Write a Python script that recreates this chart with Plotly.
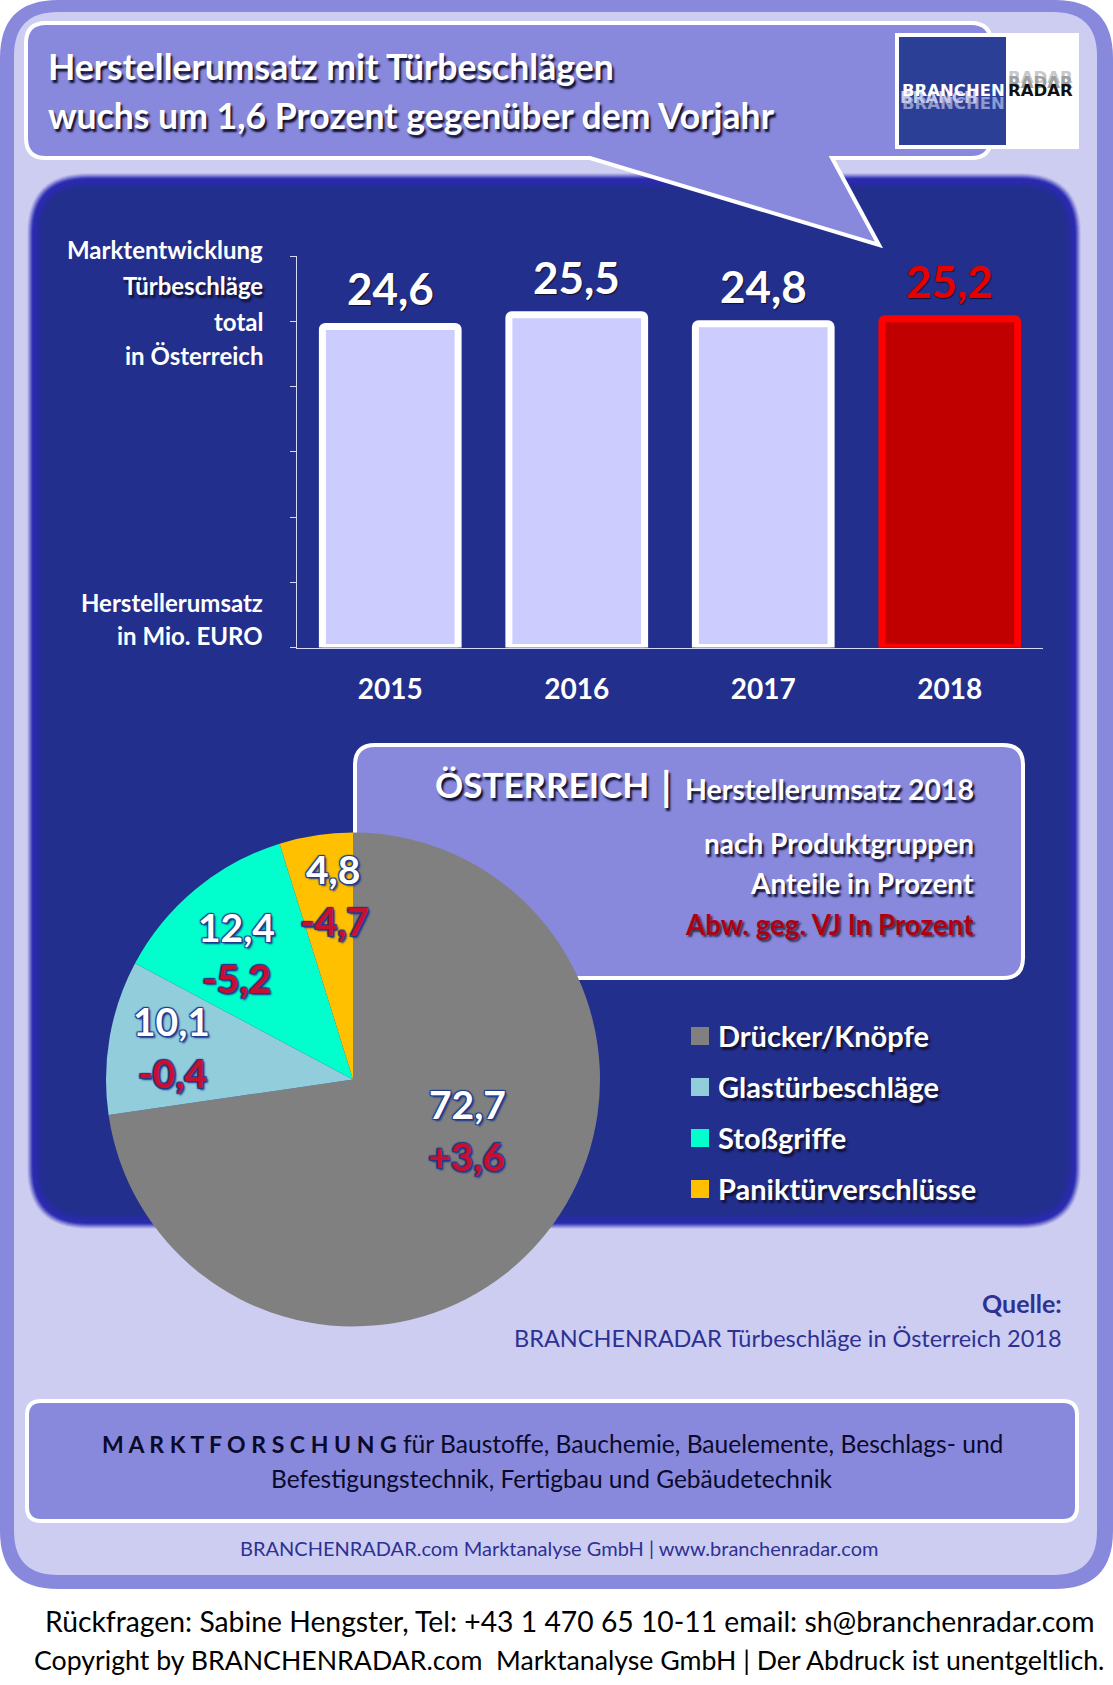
import plotly.graph_objs as go

year_list = ["2015", "2016", "2017", "2018"]
value_list = [24.6, 25.5, 24.8, 25.2]
value_text_list = ["24,6", "25,5", "24,8", "25,2"]
value_color_list = ["white", "white", "white", "#E60000"]

product_list = ["Drücker/Knöpfe", "Glastürbeschläge", "Stoßgriffe", "Paniktürverschlüsse"]
share_list = [72.7, 10.1, 12.4, 4.8]
share_text_list = ["72,7", "10,1", "12,4", "4,8"]
change_text_list = ["+3,6", "-0,4", "-5,2", "-4,7"]

axis_title_list = ["Marktentwicklung", "Türbeschläge", "total", "in Österreich", "Herstellerumsatz", "in Mio. EURO"]
axis_title_y_list = [252, 287, 323, 357, 604, 637]

share_xy_list = [(467, 1106), (171, 1023), (236, 929), (333, 871)]
change_xy_list = [(466, 1158), (172, 1075), (236, 980), (334, 923)]
legend_y_list = [1036, 1087, 1138, 1189]
slice_color_list = ["#808080", "#92CDDC", "#00FFCC", "#FFC000"]

W = 1113
H = 1685
NARROW = "Lato, sans-serif"
VIOLET = "#8888DD"
PALE = "#CDCDF2"
NAVY = "#232F8C"
DARK_SHADOW = "2px 3px 2px #111133"
OUTLINE = "1px 1px 1px #1F3A8C, -1px -1px 1px #1F3A8C, 1px -1px 1px #1F3A8C, -1px 1px 1px #1F3A8C, 2px 2px 2px #1F3A8C"


def px(x):
    return x / W


def py(y):
    return 1 - y / H


def box_path(x0, y0, x1, y1, r):
    return (f"M{px(x0 + r)},{py(y0)} L{px(x1 - r)},{py(y0)} Q{px(x1)},{py(y0)} {px(x1)},{py(y0 + r)} "
            f"L{px(x1)},{py(y1 - r)} Q{px(x1)},{py(y1)} {px(x1 - r)},{py(y1)} "
            f"L{px(x0 + r)},{py(y1)} Q{px(x0)},{py(y1)} {px(x0)},{py(y1 - r)} "
            f"L{px(x0)},{py(y0 + r)} Q{px(x0)},{py(y0)} {px(x0 + r)},{py(y0)} Z")


def box(x0, y0, x1, y1, r, fill, line=None, width=0):
    return dict(type="path", xref="paper", yref="paper", layer="below", path=box_path(x0, y0, x1, y1, r),
                fillcolor=fill, line=dict(color=line, width=width))


def note(text, x, y, size, color="white", anchor="center", bold=True, shadow=None, family=NARROW, opacity=1):
    return dict(text=text, x=px(x), y=py(y), xref="paper", yref="paper", showarrow=False, xanchor=anchor,
                yanchor="middle", yshift=2, opacity=opacity, borderpad=0,
                font=dict(family=family, size=size, color=color, weight="bold" if bold else "normal",
                          shadow=shadow if shadow else "none"))


shape_list = [box(0, 0, W, 1589, 58, VIOLET),
              box(14, 12, 1097, 1575, 44, PALE)]

# soft edge of the dark panel
for grow, color in [(3, "#BEBEEA"), (2, "#A4A4E0"), (1, "#8888D8"), (0, "#6A6ACC"), (-1, "#4C4CC0"),
                    (-2, "#3434B4"), (-3, "#2A2AAC"), (-7, "#262C9C"), (-11, NAVY)]:
    shape_list.append(box(30 - grow, 176 - grow, 1078 + grow, 1226 + grow, 58 + grow, color))

callout_path = (f"M{px(46)},{py(23)} L{px(971)},{py(23)} Q{px(991)},{py(23)} {px(991)},{py(43)} "
                f"L{px(991)},{py(138)} Q{px(991)},{py(158)} {px(971)},{py(158)} "
                f"L{px(832)},{py(158)} L{px(879)},{py(245)} L{px(590)},{py(158)} "
                f"L{px(46)},{py(158)} Q{px(26)},{py(158)} {px(26)},{py(138)} "
                f"L{px(26)},{py(43)} Q{px(26)},{py(23)} {px(46)},{py(23)} Z")
shape_list.append(dict(type="path", xref="paper", yref="paper", layer="below", path=callout_path,
                       fillcolor=VIOLET, line=dict(color="white", width=4)))
shape_list.append(box(895, 33, 1079, 149, 0, "white"))
shape_list.append(box(899, 37, 1006, 145, 0, "#2B3F96"))
shape_list.append(box(355, 745, 1023, 978, 20, VIOLET, "white", 4))
shape_list.append(box(27, 1401, 1077, 1521, 14, VIOLET, "white", 4))

for i, y in enumerate(legend_y_list):
    shape_list.append(box(691, y - 9, 709, y + 9, 0, slice_color_list[i]))

note_list = [note("Herstellerumsatz mit Türbeschlägen", 47, 68, 35.6, anchor="left", shadow=DARK_SHADOW),
             note("wuchs um 1,6 Prozent gegenüber dem Vorjahr", 47, 117, 35.6, anchor="left", shadow=DARK_SHADOW),
             note("ÖSTERREICH", 650, 786, 35, anchor="right", shadow=DARK_SHADOW),
             note("|", 666, 788, 40, shadow=DARK_SHADOW),
             note("Herstellerumsatz 2018", 975, 791, 28.5, anchor="right", shadow=DARK_SHADOW),
             note("nach Produktgruppen", 975, 845, 28, anchor="right", shadow=DARK_SHADOW),
             note("Anteile in Prozent", 975, 885, 28, anchor="right", shadow=DARK_SHADOW),
             note("Abw. geg. VJ In Prozent", 975, 926, 27.7, color="#B00010", anchor="right", shadow="2px 2px 2px #333355"),
             note("Quelle:", 1063, 1305, 25, color="#2E3192", anchor="right"),
             note("BRANCHENRADAR Türbeschläge in Österreich 2018", 1063, 1340, 23.5, color="#2E3192", anchor="right", bold=False),
             note("<b><span style=\"font-size:23px\">M A R K T F O R S C H U N G</span></b> für Baustoffe, Bauchemie, Bauelemente, Beschlags- und",
                  552, 1445, 24.6, color="#0A0A2A", bold=False),
             note("Befestigungstechnik, Fertigbau und Gebäudetechnik", 552, 1480, 24.5, color="#0A0A2A", bold=False),
             note("BRANCHENRADAR.com Marktanalyse GmbH | www.branchenradar.com", 559, 1550, 20, color="#2E3192", bold=False),
             note("Rückfragen: Sabine Hengster, Tel: +43 1 470 65 10-11 email: sh@branchenradar.com", 569, 1623, 28.3,
                  color="black", bold=False),
             note("Copyright by BRANCHENRADAR.com  Marktanalyse GmbH | Der Abdruck ist unentgeltlich.", 569, 1662, 26.7,
                  color="black", bold=False),
             note("BRANCHEN", 1006, 105, 16.5, color="#8F9AD0", anchor="right", family="DejaVu Sans"),
             note("BRANCH", 979, 99, 16.5, color="#C4C8E8", anchor="right", family="DejaVu Sans"),
             note("RADAR", 1074, 80, 16.5, color="#C8C8C8", anchor="right", family="DejaVu Sans"),
             note("RADAR", 1074, 85, 16.5, color="#A0A0A0", anchor="right", family="DejaVu Sans"),
             note("BRANCHEN", 1006, 92, 16.5, anchor="right", family="DejaVu Sans"),
             note("RADAR", 1074, 92, 16.5, color="#111111", anchor="right", family="DejaVu Sans")]

for i, title in enumerate(axis_title_list):
    shadow = DARK_SHADOW if title == "Türbeschläge" else None
    note_list.append(note(title, 264, axis_title_y_list[i], 24, anchor="right", shadow=shadow))

for i, product in enumerate(product_list):
    note_list.append(note(product, 717, legend_y_list[i] + 1, 29, anchor="left", shadow=DARK_SHADOW))

for i in range(len(share_text_list)):
    note_list.append(note(share_text_list[i], share_xy_list[i][0], share_xy_list[i][1], 39, shadow=OUTLINE))
    note_list.append(note(change_text_list[i], change_xy_list[i][0], change_xy_list[i][1], 39, color="#C8102E", shadow=OUTLINE))

for i in range(len(year_list)):
    note_list.append(dict(text=value_text_list[i], x=i, y=value_list[i], xref="x", yref="y", showarrow=False,
                          yanchor="middle", yshift=38,
                          font=dict(family=NARROW, size=44, weight="bold", color=value_color_list[i],
                                    shadow="1px 1px 1px #111133")))

bar_data = go.Bar(x=year_list, y=value_list, width=0.7277, cliponaxis=False,
                  marker=dict(color=["#CCCCFF", "#CCCCFF", "#CCCCFF", "#C00000"], cornerradius=3,
                              line=dict(color=["white", "white", "white", "#FF0000"], width=7)))

pie_data = go.Pie(labels=product_list, values=share_list, sort=False, direction="clockwise", rotation=0,
                  textinfo="none", showlegend=False,
                  domain=dict(x=[px(106), px(600)], y=[py(1326.5), py(832.5)]),
                  marker=dict(colors=slice_color_list, line=dict(width=0)))

fig = go.Figure([bar_data, pie_data])

fig.update_layout(width=W, height=H, margin=dict(l=0, r=0, t=0, b=0), showlegend=False,
                  paper_bgcolor="white", plot_bgcolor="rgba(0,0,0,0)", shapes=shape_list, annotations=note_list,
                  xaxis=dict(domain=[px(297), px(1043)], type="category", range=[-0.5, 3.5], showgrid=False, ticks="",
                             linecolor="#D8D8F8", linewidth=1, ticklabelstandoff=17,
                             tickfont=dict(family=NARROW, size=28, color="white", weight="bold")),
                  yaxis=dict(domain=[py(647.5), py(256)], range=[0, 30], dtick=5, showgrid=False, zeroline=False,
                             showticklabels=False, ticks="outside", ticklen=6, tickwidth=1, tickcolor="#D8D8F8",
                             showline=True, linecolor="#D8D8F8", linewidth=1))

fig.write_html("out.html", config={"displayModeBar": False}, post_script="document.body.style.margin='0';")
